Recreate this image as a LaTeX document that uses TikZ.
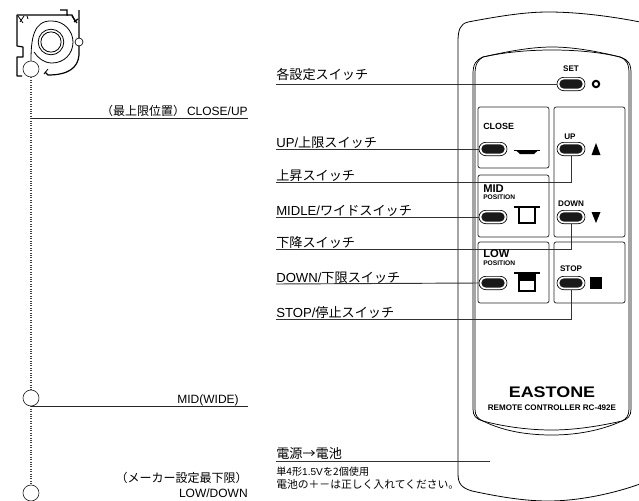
\documentclass[tikz,border=0pt]{standalone}
\usepackage{fontspec}
\setmainfont{Noto Sans CJK JP}
\setsansfont{Liberation Sans}
\usetikzlibrary{shapes.misc}
\tikzset{lead/.style={draw=black!80, line width=.7pt}}
\tikzset{stopline/.style={draw=black!85, line width=.6pt}}
\tikzset{panel/.style={draw=black!85, line width=.55pt, rounded corners=1.6pt}}
\tikzset{btnout/.style={rounded rectangle, draw=black, fill=white, line width=.5pt, minimum width=21pt, minimum height=10pt, inner sep=0pt}}
\tikzset{btnin/.style={rounded rectangle, fill=black!90, minimum width=17.5pt, minimum height=7pt, inner sep=0pt}}
\tikzset{swlab/.style={anchor=base west, inner sep=0pt, font=\fontsize{9.85}{10}\selectfont}}
\tikzset{poslab/.style={anchor=base east, inner sep=0pt, font=\fontsize{9}{10}\selectfont}}
\tikzset{keylab/.style={anchor=base, inner sep=0pt, font=\sffamily\bfseries\fontsize{6.1}{7}\selectfont}}
\tikzset{boxlab/.style={anchor=base west, inner sep=0pt, font=\sffamily\bfseries\fontsize{#1}{#1}\selectfont}}
\tikzset{note/.style={anchor=base west, inner sep=0pt, font=\fontsize{#1}{9}\selectfont}}
\tikzset{stopper/.style={circle, draw=black!85, fill=white, line width=.5pt, minimum size=12pt, inner sep=0pt}}
\begin{document}
\begin{tikzpicture}[x=.75pt,y=-.75pt]
  \useasboundingbox (0,0) rectangle (639,500);
  \clip (0,0) rectangle (639,500);
  \draw[line width=.6pt] (458,42) .. controls (458,30) and (460,24) .. (468,22)
    .. controls (500,16) and (525,12) .. (548,12)
    .. controls (580,12) and (615,17) .. (640,22);
  \draw[line width=.6pt] (458,42) -- (458,474) .. controls (458,484) and (462,488) .. (472,491)
    .. controls (500,497) and (525,501) .. (548,501)
    .. controls (580,501) and (615,493) .. (640,484);
  \foreach \ins/\top/\bot in {0/47/435, 2/50/430} {
    \draw[line width=.55pt] (473+\ins,74) -- (473+\ins,409)
      .. controls (473+\ins,416) and (476+\ins,419) .. (483,421)
      .. controls (505,\bot-3) and (530,\bot) .. (552,\bot)
      .. controls (575,\bot) and (600,\bot-4) .. (622,421)
      .. controls (628-\ins,419) and (631-\ins,416) .. (631-\ins,409)
      -- (631-\ins,74) .. controls (631-\ins,64) and (629-\ins,60) .. (620,57)
      .. controls (600,52) and (575,\top) .. (552,\top)
      .. controls (530,\top) and (505,52) .. (483,57)
      .. controls (476+\ins,60) and (473+\ins,64) .. (473+\ins,74);
  }
  \foreach \xa/\ya/\xb/\yb in {
    478/107/549/168,
    554/107/625/237,
    478/175/549/237,
    478/242/549/303,
    554/242/625/303%
  } {
    \draw[panel] (\xa,\ya) rectangle (\xb,\yb);
  }
  \foreach \x/\y/\lab in {
    571/84/setb,
    493/149/closeb,
    571/149/upb,
    493/217/midb,
    571/217/downb,
    493/283/lowb,
    571/283/stopb%
  } {
    \node[btnout] (\lab) at (\x,\y) {};
    \node[btnin] (\lab i) at (\x,\y) {};
  }
  \foreach \x/\y/\off/\name/\lab in {
    276/84/5/各設定スイッチ/setl,
    276/149/2/{\textsf{UP/}上限スイッチ}/closel,
    276/182/2/上昇スイッチ/upl,
    276/217/2/{\textsf{MIDLE/}ワイドスイッチ}/midl,
    276/249/2/下降スイッチ/downl,
    276/284/2/{\textsf{DOWN/}下限スイッチ}/lowl,
    276/319/2/{\textsf{STOP/}停止スイッチ}/stopl,
    276/461/3/電源→電池/batl%
  } {
    \coordinate (\lab) at (\x,\y);
    \node[swlab] at (\x,\y-\off) {\name};
  }
  \coordinate (bate) at (490,461);
  \draw[lead] (setl) -- (setb.west);
  \draw[lead] (closel) -- (closeb.west);
  \draw[lead] (upl) -| (upb.south);
  \draw[lead] (midl) -- (midb.west);
  \draw[lead] (downl) -| (downb.south);
  \draw[lead] (lowl) -- (lowb.west);
  \draw[lead] (stopl) -| (stopb.south);
  \draw[lead] (batl) -- (bate);
  \node[note=7.6] at (276,475) {単4形\textsf{1.5V}を2個使用};
  \node[note=8.1] at (276,488) {電池の＋－は正しく入れてください。};
  \node[keylab] at (571,71) {SET};
  \node[keylab] at (570,139) {UP};
  \node[keylab] at (571,206) {DOWN};
  \node[keylab] at (571,271) {STOP};
  \node[boxlab=6.7] at (483,129) {CLOSE};
  \node[boxlab=8.4] at (483,192) {MID};
  \node[boxlab=5] at (483,199) {POSITION};
  \node[boxlab=8.4] at (483,257) {LOW};
  \node[boxlab=5] at (483,265) {POSITION};
  \draw[line width=1.5pt] (596,84) circle (2.4pt);
  \fill (596,143) -- (600.5,155) -- (591.5,155) -- cycle;
  \fill (596,223) -- (600.5,212) -- (591.5,212) -- cycle;
  \fill (590,277) rectangle (602,289);
  \draw[line width=.7pt] (514,150) -- (540,150);
  \fill (516,150.5) -- (538,150.5) -- (534,154) -- (520,154) -- cycle;
  \draw[line width=1pt] (514,207) -- (540,207);
  \draw[line width=1pt] (519,207) rectangle (535,223);
  \draw[line width=1pt] (514,273) -- (540,273);
  \fill (519,273) rectangle (535,281);
  \draw[line width=1pt] (519,273) rectangle (535,291);
  \node[inner sep=0pt, xscale=1.17, transform shape, font=\sffamily\bfseries\fontsize{11.5}{12}\selectfont] (brand) at (552,392) {EASTONE};
  \node[inner sep=0pt, font=\sffamily\bfseries\fontsize{6.05}{7}\selectfont] (model) at (552,408) {REMOTE CONTROLLER RC-492E};
  \draw[line width=.9pt, line join=round] (22,76) -- (17,76) -- (17,57) -- (23,57) -- (23,47) -- (17,46) -- (17,15) -- (68,15);
  \draw[line width=.9pt] (60,10) -- (67,10) -- (67,15) -- (72,15) -- (75,21);
  \draw[line width=.9pt] (79,10) -- (79,55) .. controls (78,68) and (68,75) .. (48,75) -- (45,72);
  \draw[line width=.6pt] (18,16) -- (23,23) (24,16) -- (20,22) (27,16) -- (28,19);
  \draw[line width=.9pt] (72,16) -- (77,23) (74,22) -- (78,19);
  \draw[line width=.6pt] (44,74) -- (48,69);
  \draw[line width=.6pt] (31,61) .. controls (31,40) and (33,20) .. (52,21)
    .. controls (64,21) and (73,31) .. (73,42) .. controls (73,54) and (64,63) .. (52,63)
    .. controls (44,63) and (38,58) .. (34,52);
  \draw[line width=.6pt] (51,42) circle (9.6pt);
  \draw[line width=.6pt] (51,42) circle (7.6pt);
  \draw[line width=.5pt, fill=white] (79,42) circle (3pt);
  \node[stopper] (rollc) at (31,69) {};
  \node[stopper] (midc) at (31,398) {};
  \node[stopper] (lowc) at (31,493) {};
  \draw[densely dotted, line width=.8pt, black!75] (rollc) -- (midc);
  \draw[densely dotted, line width=.8pt, black!75] (midc) -- (lowc);
  \coordinate (topa) at (31,118);
  \coordinate (topb) at (248,118);
  \coordinate (mida) at (31,406);
  \coordinate (midb2) at (248,406);
  \draw[stopline] (topa) -- (topb);
  \draw[stopline] (mida) -- (midb2);
  \node[poslab] at (248,115) {（最上限位置）\,\textsf{CLOSE/UP}};
  \node[poslab] at (239,403) {\textsf{MID(WIDE)}};
  \node[poslab] at (248,482) {（メーカー設定最下限）};
  \node[poslab] at (248,497) {\textsf{LOW/DOWN}};
\end{tikzpicture}
\end{document}
